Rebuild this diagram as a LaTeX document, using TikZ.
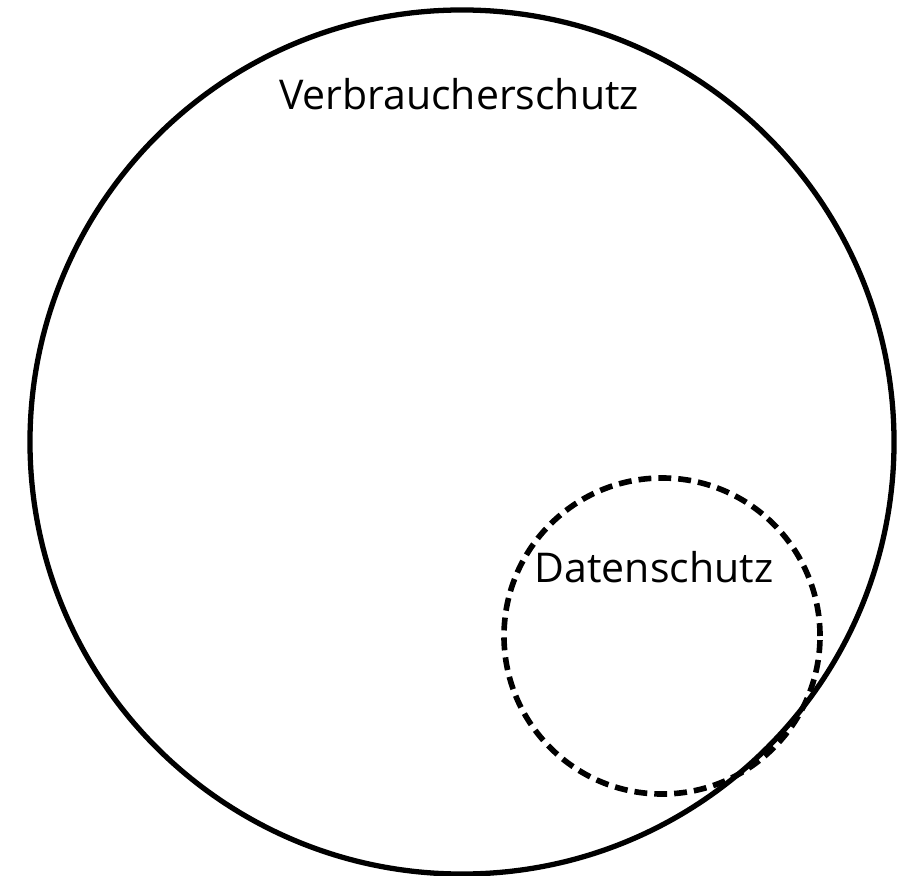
\documentclass[tikz,border=0pt]{standalone}
\usepackage{fontspec}
\setmainfont{Open Sans}
\begin{document}
\begin{tikzpicture}[x=0.03cm, y=-0.03cm,
    area/.style={circle, draw, line width=4.5pt, inner sep=0pt},
    subarea/.style={area, line width=4.8pt, dash pattern=on 11pt off 6pt},
    areaname/.style={font=\fontsize{35}{42}\selectfont, inner sep=0pt, anchor=base}]
    % Canvas
    \useasboundingbox (0,0) rectangle (899,876);

    % Outer area
    \node[area, minimum size=25.92cm] (verbraucher) at (462,442) {};
    \node[areaname] (verbraucherlabel) at (459,110) {Verbraucherschutz};

    % Inner area
    \node[subarea, minimum size=9.48cm] (daten) at (662,636) {};
    \node[areaname] (datenlabel) at (654,582) {Datenschutz};
\end{tikzpicture}
\end{document}
